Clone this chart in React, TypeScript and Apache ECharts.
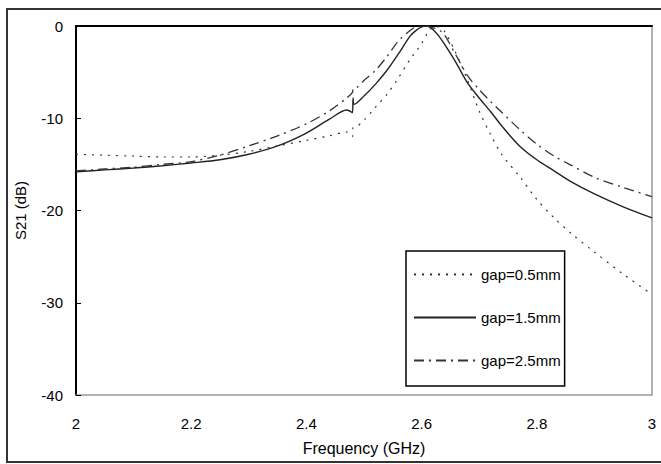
import React, { useEffect, useRef } from "react";
import * as echarts from "echarts";

const freq = [2.0, 2.05, 2.1, 2.15, 2.2, 2.25, 2.3, 2.35, 2.4, 2.44, 2.47, 2.48, 2.481, 2.483, 2.5, 2.52, 2.54, 2.56, 2.58, 2.59, 2.6, 2.61, 2.62, 2.63, 2.64, 2.66, 2.68, 2.7, 2.72, 2.74, 2.77, 2.8, 2.83, 2.86, 2.9, 2.95, 3.0];

const gap05 = [-13.9, -14.0, -14.1, -14.2, -14.2, -14.0, -13.6, -13.0, -12.4, -11.9, -11.5, -12.0, -11.0, -11.0, -10.2, -8.8, -7.4, -5.6, -3.6, -2.8, -1.9, -0.8, -0.1, -0.1, -0.6, -3.0, -5.9, -9.2, -11.8, -14.0, -16.3, -18.8, -20.8, -22.5, -24.5, -26.9, -29.1];

const gap15 = [-15.8, -15.6, -15.4, -15.15, -14.85, -14.5, -13.9, -13.0, -11.6, -10.1, -9.1, -9.4, -7.8, -8.5, -7.6, -6.3, -4.8, -3.0, -1.1, -0.5, -0.1, 0, -0.4, -1.1, -2.0, -4.0, -6.2, -7.8, -9.3, -10.9, -13.0, -14.5, -15.7, -16.9, -18.2, -19.6, -20.8];

const gap25 = [-15.7, -15.5, -15.3, -15.0, -14.7, -14.0, -13.0, -11.9, -10.6, -9.2, -7.8, -7.2, -6.8, -6.8, -5.9, -4.8, -3.3, -1.6, -0.5, -0.1, 0, -0.05, -0.2, -0.4, -1.0, -3.2, -5.4, -6.9, -8.2, -9.4, -11.2, -12.8, -14.1, -15.1, -16.4, -17.5, -18.5];

const seriesNames = ["gap=0.5mm", "gap=1.5mm", "gap=2.5mm"];
const xTicks = { min: 2, max: 3, interval: 0.2 };
const yTicks = { min: -40, max: 0, interval: 10 };

const pair = (ys: number[]) => freq.map((f, i) => [f, ys[i]]);

export default function App() {
  const ref = useRef<HTMLDivElement>(null);
  useEffect(() => {
    if (!ref.current) return;
    const chart = echarts.init(ref.current, undefined, { renderer: "svg" });
    const font = "Arial, 'Liberation Sans', sans-serif";
    chart.setOption({
      animation: false,
      backgroundColor: "#fff",
      grid: { left: 76, top: 26, right: 9, bottom: 69, containLabel: false },
      legend: {
        orient: "vertical",
        left: 406,
        top: 251,
        padding: [16, 4, 18, 7],
        itemWidth: 62,
        itemHeight: 14,
        itemGap: 28,
        borderColor: "#000",
        borderWidth: 1.5,
        backgroundColor: "#fff",
        itemStyle: { opacity: 0, color: "rgba(0,0,0,0)", borderWidth: 0 },
        textStyle: { fontSize: 15, fontFamily: font, color: "#000" },
        data: seriesNames,
      },
      xAxis: [
        {
          type: "value",
          min: xTicks.min,
          max: xTicks.max,
          interval: xTicks.interval,
          name: "Frequency (GHz)",
          nameLocation: "middle",
          nameGap: 45,
          nameTextStyle: { fontSize: 16, fontFamily: font, color: "#000" },
          axisLine: { show: true, onZero: false, lineStyle: { color: "#999", width: 1.5 } },
          axisTick: { show: false },
          splitLine: { show: false },
          axisLabel: {
            fontSize: 15,
            fontFamily: font,
            color: "#000",
            margin: 21,
            formatter: (v: number) => String(Math.round(v * 10) / 10),
          },
        },
        {
          type: "value",
          position: "top",
          min: xTicks.min,
          max: xTicks.max,
          axisLine: { show: true, onZero: false, lineStyle: { color: "#000", width: 2 } },
          axisTick: { show: false },
          axisLabel: { show: false },
          splitLine: { show: false },
        },
      ],
      yAxis: [
        {
          type: "value",
          min: yTicks.min,
          max: yTicks.max,
          interval: yTicks.interval,
          name: "S21 (dB)",
          nameLocation: "middle",
          nameGap: 48,
          nameTextStyle: { fontSize: 15, fontFamily: font, color: "#000" },
          axisLine: { show: true, onZero: false, lineStyle: { color: "#000", width: 2 } },
          axisTick: { show: true, inside: true, length: 5, lineStyle: { color: "#000", width: 1 } },
          splitLine: { show: false },
          axisLabel: { fontSize: 15, fontFamily: font, color: "#000", margin: 13 },
        },
        {
          type: "value",
          position: "right",
          min: yTicks.min,
          max: yTicks.max,
          axisLine: { show: true, onZero: false, lineStyle: { color: "#999", width: 1.5 } },
          axisTick: { show: false },
          axisLabel: { show: false },
          splitLine: { show: false },
        },
      ],
      graphic: [
        {
          type: "rect",
          shape: { x: 7, y: 9, width: 700, height: 453 },
          style: { fill: "none", stroke: "#333", lineWidth: 2 },
          silent: true,
          z: 100,
        },
      ],
      series: [
        {
          name: seriesNames[0],
          type: "line",
          data: pair(gap05),
          symbol: "none",
          smooth: 0.3,
          lineStyle: { color: "#333", width: 1.2, type: [2, 6] },
          itemStyle: { color: "#333" },
        },
        {
          name: seriesNames[1],
          type: "line",
          data: pair(gap15),
          symbol: "none",
          smooth: 0.3,
          lineStyle: { color: "#222", width: 1.4, type: "solid" },
          itemStyle: { color: "#222" },
        },
        {
          name: seriesNames[2],
          type: "line",
          data: pair(gap25),
          symbol: "none",
          smooth: 0.3,
          lineStyle: { color: "#333", width: 1.3, type: [10, 5, 2, 5] },
          itemStyle: { color: "#333" },
        },
      ],
    });
    return () => chart.dispose();
  }, []);
  return (
    <div
      ref={ref}
      style={{ position: "fixed", left: 0, top: 0, width: 661, height: 464, background: "#fff" }}
    />
  );
}
